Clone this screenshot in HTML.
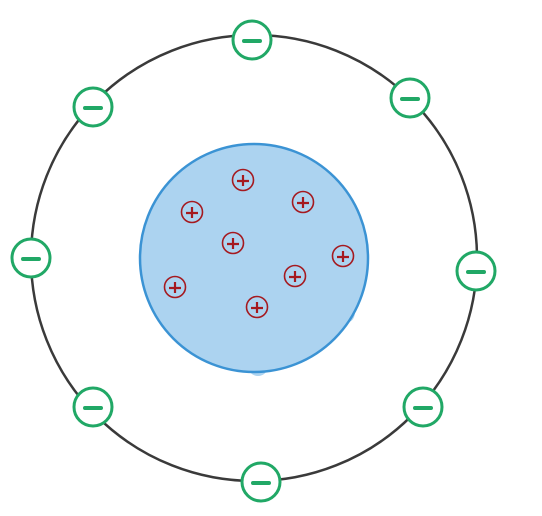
<!DOCTYPE html>
<html><head><style>body{margin:0;background:#fff}</style></head><body>
<svg width="542" height="511" viewBox="0 0 542 511" xmlns="http://www.w3.org/2000/svg">
<circle cx="254" cy="258" r="223" fill="none" stroke="#3a3a3a" stroke-width="2.5"/>
<ellipse cx="258" cy="366" rx="10" ry="10" fill="#acd3f0"/>
<ellipse cx="348" cy="312" rx="7" ry="10" fill="#acd3f0"/>
<circle cx="254" cy="258" r="114" fill="#acd3f0" stroke="#3b93d4" stroke-width="2.5"/>
<g fill="none" stroke="#a5191f" stroke-width="1.6">
<circle cx="243" cy="180" r="10.5"/><circle cx="192" cy="212" r="10.5"/><circle cx="303" cy="202" r="10.5"/><circle cx="233" cy="243" r="10.5"/><circle cx="343" cy="256" r="10.5"/><circle cx="175" cy="287" r="10.5"/><circle cx="295" cy="276" r="10.5"/><circle cx="257" cy="307" r="10.5"/>
</g>
<g stroke="#a5191f" stroke-width="2.2">
<path d="M237 181h12M243 175v11M186 213h12M192 207v11M297 203h12M303 197v11M227 244h12M233 238v11M337 257h12M343 251v11M169 288h12M175 282v11M289 277h12M295 271v11M251 308h12M257 302v11"/>
</g>
<g fill="#fff" stroke="#21a866" stroke-width="3">
<circle cx="252" cy="40" r="19"/><circle cx="410" cy="98" r="19"/><circle cx="93" cy="107" r="19"/><circle cx="31" cy="258" r="19"/><circle cx="476" cy="271" r="19"/><circle cx="93" cy="407" r="19"/><circle cx="423" cy="407" r="19"/><circle cx="261" cy="482" r="19"/>
</g>
<g stroke="#21a866" stroke-width="4" stroke-linecap="round">
<path d="M244 41h16M402 99h16M85 108h16M23 259h16M468 272h16M85 408h16M415 408h16M253 483h16"/>
</g>
</svg>
</body></html>
